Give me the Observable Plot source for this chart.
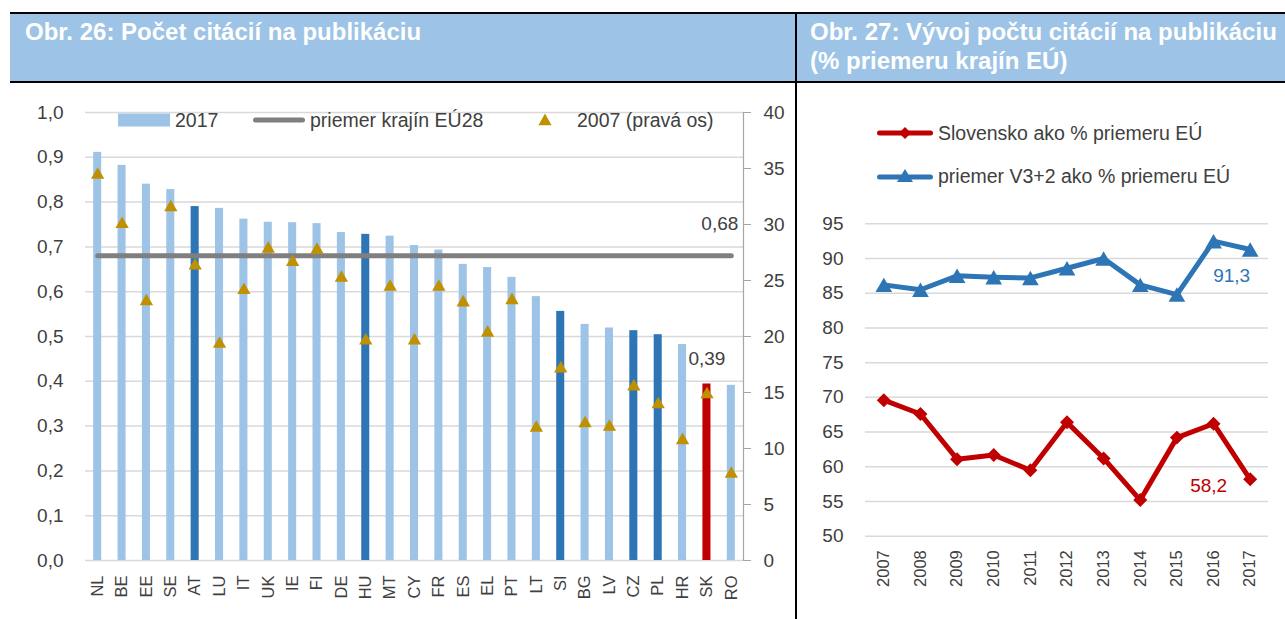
<!DOCTYPE html>
<html><head><meta charset="utf-8">
<script src="https://cdn.jsdelivr.net/npm/d3@7"></script>
<script src="https://cdn.jsdelivr.net/npm/@observablehq/plot@0.6"></script>
<style>
html,body{margin:0;padding:0;background:#fff;}
body{width:1285px;height:619px;position:relative;overflow:hidden;font-family:'Liberation Sans',Arial,Helvetica,sans-serif;color:#404040;}
.abs{position:absolute;}
.hdr{background:#9DC3E6;}
.htxt{color:#fff;font-weight:bold;font-size:24px;line-height:29px;white-space:nowrap;}
.bl{background:#000;}
.leg{position:absolute;display:flex;align-items:center;height:24px;font-size:19.5px;white-space:nowrap;color:#404040;}
.leg svg{display:block;}
</style></head><body>
<div class="abs hdr" style="left:10px;top:14px;width:785px;height:67px"></div>
<div class="abs hdr" style="left:797px;top:14px;width:488px;height:67px"></div>
<div class="abs bl" style="left:10px;top:12px;width:1275px;height:2px"></div>
<div class="abs bl" style="left:10px;top:81px;width:786px;height:1.5px"></div>
<div class="abs bl" style="left:796px;top:80.5px;width:489px;height:2px"></div>
<div class="abs bl" style="left:795px;top:12px;width:2px;height:607px"></div>
<div class="abs htxt" id="t1" style="left:25px;top:17px"></div>
<div class="abs htxt" id="t2" style="left:810px;top:17px"></div>
<div class="abs" id="c1" style="left:0;top:90px"></div>
<div class="abs" id="c2" style="left:797px;top:200px"></div>
<div id="legs"></div>
<script>
// ---------- DATA ----------
const title1 = "Obr. 26: Počet citácií na publikáciu";
const title2 = ["Obr. 27: Vývoj počtu citácií na publikáciu", "(% priemeru krajín EÚ)"];

const countries = ["NL","BE","EE","SE","AT","LU","IT","UK","IE","FI","DE","HU","MT","CY","FR","ES","EL","PT","LT","SI","BG","LV","CZ","PL","HR","SK","RO"];
const cit2017 = [0.911,0.882,0.840,0.828,0.790,0.786,0.762,0.755,0.754,0.752,0.732,0.728,0.724,0.703,0.693,0.661,0.654,0.632,0.589,0.556,0.527,0.519,0.513,0.504,0.482,0.394,0.391];
const cit2007 = [34.6,30.2,23.3,31.7,26.5,19.5,24.3,28.0,26.8,27.9,25.4,19.8,24.6,19.8,24.6,23.2,20.5,23.4,12.0,17.3,12.4,12.1,15.7,14.1,10.9,15.0,7.9];
const v3Group = ["AT","HU","SI","CZ","PL"];
const focusCountry = "SK";
const eu28Avg = 0.68;
const leftTicks = [0,0.1,0.2,0.3,0.4,0.5,0.6,0.7,0.8,0.9,1.0];
const rightTicks = [0,5,10,15,20,25,30,35,40];
const rightMax = 40;
const legend1 = ["2017", "priemer krajín EÚ28", "2007 (pravá os)"];

const years = ["2007","2008","2009","2010","2011","2012","2013","2014","2015","2016","2017"];
const skPct = [69.6,67.6,61.1,61.7,59.5,66.4,61.2,55.2,64.2,66.2,58.2];
const v32Pct = [86.2,85.5,87.5,87.3,87.2,88.6,90.0,86.2,84.8,92.5,91.3];
const pctTicks = [50,55,60,65,70,75,80,85,90,95];
const legend2 = ["Slovensko ako % priemeru EÚ", "priemer V3+2 ako % priemeru EÚ"];

// ---------- STYLE ----------
const C = {light:"#9DC3E6", dark:"#2E75B6", red:"#C00000", gold:"#BF9000", avg:"#7F7F7F", grid:"#D9D9D9", axis:"#A6A6A6", text:"#404040", blue:"#2E75B6"};
const FONT = "'Liberation Sans', Arial, Helvetica, sans-serif";
const comma = (f) => (d) => d3.format(f)(d).replace(".", ",");

document.getElementById("t1").textContent = title1;
document.getElementById("t2").innerHTML = title2.map(s => s.replace(/&/g,"&amp;")).join("<br>");

// ---------- LEFT CHART ----------
const bars = countries.map((c, i) => ({c, v17: cit2017[i], v07: cit2007[i],
  grp: c === focusCountry ? "sk" : v3Group.includes(c) ? "v" : "o"}));
const avgLine = [{c: countries[0], v: eu28Avg}, {c: countries[countries.length - 1], v: eu28Avg}];

const p1 = Plot.plot({
  width: 795, height: 529,
  marginLeft: 85, marginRight: 52, marginTop: 22, marginBottom: 59,
  style: {fontFamily: FONT, fontSize: "19px", color: C.text, background: "transparent", overflow: "visible"},
  x: {domain: countries, paddingInner: 0.67, paddingOuter: 0.335, round: false, label: null},
  y: {domain: [0, 1], label: null},
  color: {domain: ["o","v","sk"], range: [C.light, C.dark, C.red]},
  marks: [
    Plot.gridY(leftTicks, {stroke: C.grid, strokeOpacity: 1, strokeWidth: 1.5}),
    Plot.frame({anchor: "right", stroke: C.axis, strokeWidth: 1.2}),
    Plot.axisY(leftTicks, {anchor: "left", tickSize: 0, tickPadding: 22, tickFormat: comma(".1f"), label: null, fontSize: 19}),
    Plot.axisY(rightTicks.map(v => v / rightMax), {anchor: "right", tickSize: 7, tickPadding: 13, stroke: C.axis, tickFormat: d => String(Math.round(d * rightMax)), label: null, fontSize: 19}),
    Plot.barY(bars, {x: "c", y: "v17", fill: "grp"}),
    Plot.line(avgLine, {x: "c", y: "v", stroke: C.avg, strokeWidth: 5, strokeLinecap: "round"}),
    Plot.dot(bars, {x: "c", y: d => d.v07 / rightMax, symbol: "triangle", r: 4.95, fill: C.gold, dy: 1.9}),
    Plot.text(avgLine.slice(1), {x: "c", y: "v", text: d => comma(".2f")(d.v), textAnchor: "end", dx: 7, dy: -32, fontSize: 19, fill: C.text}),
    Plot.text(bars.filter(d => d.c === focusCountry), {x: "c", y: "v17", text: d => comma(".2f")(d.v17), dy: -25, fontSize: 19, fill: C.text}),
    Plot.axisX({tickRotate: -90, tickSize: 0, tickPadding: 15, label: null, fontSize: 16.5})
  ]
});
document.getElementById("c1").appendChild(p1);

// ---------- RIGHT CHART ----------
const sk = years.map((y, i) => ({y, v: skPct[i]}));
const v32 = years.map((y, i) => ({y, v: v32Pct[i]}));

const p2 = Plot.plot({
  width: 488, height: 419,
  marginLeft: 68, marginRight: 17, marginTop: 23.3, marginBottom: 83.3,
  style: {fontFamily: FONT, fontSize: "19px", color: C.text, background: "transparent", overflow: "visible"},
  x: {type: "band", domain: years, padding: 0, round: false, label: null},
  y: {domain: [50, 95], label: null},
  marks: [
    Plot.gridY(pctTicks, {stroke: C.grid, strokeOpacity: 1, strokeWidth: 1.5}),
    Plot.axisY(pctTicks, {anchor: "left", tickSize: 0, tickPadding: 22, label: null, fontSize: 19}),
    Plot.axisX({tickRotate: -90, tickSize: 0, tickPadding: 14, label: null, fontSize: 16.5}),
    Plot.line(v32, {x: "y", y: "v", stroke: C.blue, strokeWidth: 5, strokeLinejoin: "round"}),
    Plot.dot(v32, {x: "y", y: "v", symbol: "triangle", r: 6.2, fill: C.blue, dy: 2.4}),
    Plot.line(sk, {x: "y", y: "v", stroke: C.red, strokeWidth: 5, strokeLinejoin: "round"}),
    Plot.dot(sk, {x: "y", y: "v", symbol: "diamond2", r: 6.3, fill: C.red}),
    Plot.text(v32.slice(-1), {x: "y", y: "v", text: d => comma(".1f")(d.v), textAnchor: "end", dy: 26, fontSize: 19, fill: C.blue}),
    Plot.text(sk.slice(-1), {x: "y", y: "v", text: d => comma(".1f")(d.v), textAnchor: "end", dx: -23, dy: 7, fontSize: 19, fill: C.red})
  ]
});
document.getElementById("c2").appendChild(p2);

// ---------- LEGENDS (HTML) ----------
const legs = document.getElementById("legs");
function legItem(left, centerY, svgW, svgInner, gap, label) {
  const d = document.createElement("div");
  d.className = "leg";
  d.style.left = left + "px";
  d.style.top = (centerY - 12) + "px";
  d.innerHTML = `<svg width="${svgW}" height="24" style="margin-right:${gap}px">${svgInner}</svg><span>${label}</span>`;
  legs.appendChild(d);
}
legItem(118, 120.3, 52, `<rect x="0" y="5.5" width="52" height="13" fill="${C.light}"/>`, 5, legend1[0]);
legItem(253, 120.3, 52, `<line x1="2.5" x2="49.5" y1="12" y2="12" stroke="${C.avg}" stroke-width="5" stroke-linecap="round"/>`, 5, legend1[1]);
legItem(538, 120.3, 14, `<path d="M7,5.6L13.6,17.2L0.4,17.2Z" fill="${C.gold}"/>`, 25, legend1[2]);
legItem(877, 133.3, 56, `<line x1="2.5" x2="53.5" y1="12" y2="12" stroke="${C.red}" stroke-width="5" stroke-linecap="round"/><path d="M28,6L34,12L28,18L22,12Z" fill="${C.red}"/>`, 5, legend2[0]);
legItem(877, 176.7, 56, `<line x1="2.5" x2="53.5" y1="12" y2="12" stroke="${C.blue}" stroke-width="5" stroke-linecap="round"/><path d="M28,4L36,17L20,17Z" fill="${C.blue}"/>`, 5, legend2[1]);
</script>
</body></html>
